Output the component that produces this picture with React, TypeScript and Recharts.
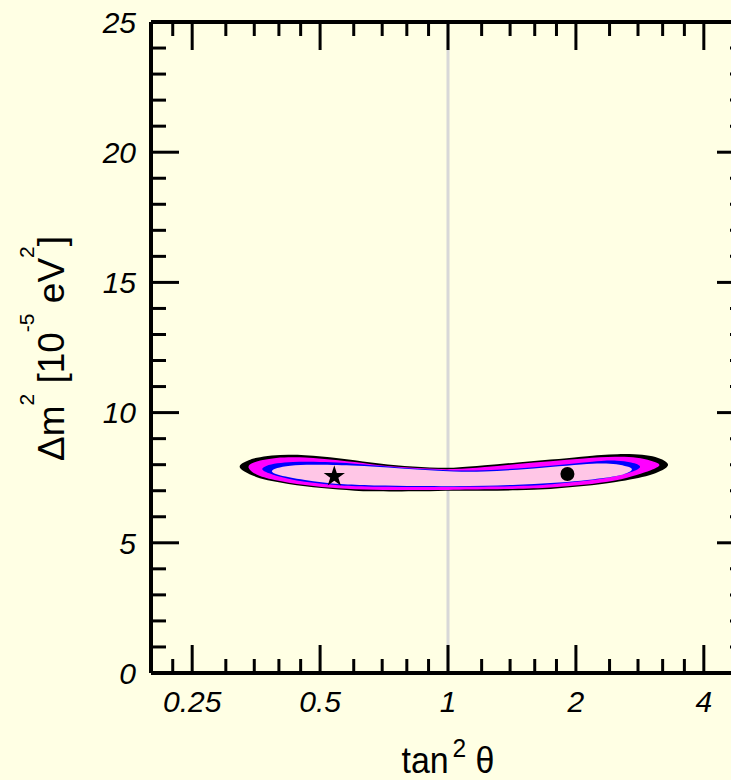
import React from 'react';
import { ScatterChart, Scatter, XAxis, YAxis, ReferenceLine, Label, Symbols } from 'recharts';

// ---------- data ----------
const X_MAJOR_TICKS = [0.25, 0.5, 1, 2, 4];
const X_MINOR_TICKS = [0.225, 0.3, 0.35, 0.4, 0.45, 0.6, 0.7, 0.8, 0.9, 1.2, 1.4, 1.6, 1.8, 2.4, 2.8, 3.2, 3.6, 4.8];
const Y_MAJOR_TICKS = [0, 5, 10, 15, 20, 25];
const Y_MINOR_TICKS = [1, 2, 3, 4, 6, 7, 8, 9, 11, 12, 13, 14, 16, 17, 18, 19, 21, 22, 23, 24];

// contour regions: [tan^2 theta, dm^2 (1e-5 eV^2)], traced around the boundary
const CONTOUR_OUTER = [
  [0.320, 7.93], [0.330, 8.08], [0.339, 8.17], [0.352, 8.26], [0.385, 8.36], [0.421, 8.39],
  [0.461, 8.37], [0.504, 8.32], [0.552, 8.25], [0.603, 8.17], [0.660, 8.08], [0.722, 8.0],
  [0.790, 7.94], [0.865, 7.91], [0.950, 7.88], [1.033, 7.87], [1.216, 7.97], [1.456, 8.09],
  [1.743, 8.19], [2.086, 8.32], [2.30, 8.38], [2.498, 8.41], [2.75, 8.41], [2.989, 8.35],
  [3.17, 8.24], [3.36, 8.0], [3.17, 7.75], [2.989, 7.59], [2.75, 7.46], [2.498, 7.33],
  [2.086, 7.17], [1.743, 7.06], [1.456, 7.01], [1.216, 7.0], [1.033, 7.0], [0.865, 6.97],
  [0.750, 6.97], [0.660, 6.97], [0.603, 7.0], [0.552, 7.04], [0.504, 7.1], [0.461, 7.17],
  [0.421, 7.26], [0.385, 7.36], [0.352, 7.52], [0.330, 7.75],
];
const CONTOUR_99 = [
  [0.335, 7.91], [0.345, 8.06], [0.360, 8.16], [0.385, 8.25], [0.421, 8.29], [0.461, 8.28],
  [0.504, 8.23], [0.552, 8.17], [0.603, 8.10], [0.660, 8.02], [0.722, 7.94], [0.865, 7.85],
  [1.033, 7.81], [1.216, 7.90], [1.456, 8.03], [1.743, 8.13], [2.086, 8.24], [2.498, 8.32],
  [2.80, 8.28], [3.00, 8.16], [3.22, 8.0], [3.00, 7.78], [2.80, 7.62], [2.498, 7.38],
  [2.086, 7.22], [1.743, 7.11], [1.456, 7.06], [1.033, 7.04], [0.865, 7.02], [0.660, 7.03],
  [0.552, 7.08], [0.461, 7.2], [0.385, 7.42], [0.352, 7.6],
];
const CONTOUR_95 = [
  [0.360, 7.81], [0.372, 7.96], [0.395, 8.06], [0.430, 8.11], [0.480, 8.12], [0.552, 8.08],
  [0.603, 8.04], [0.722, 7.93], [0.865, 7.82], [1.033, 7.77], [1.216, 7.78], [1.456, 7.85],
  [1.743, 7.95], [2.086, 8.09], [2.30, 8.15], [2.498, 8.17], [2.70, 8.10], [2.90, 7.93],
  [2.70, 7.70], [2.498, 7.56], [2.20, 7.40], [1.743, 7.23], [1.456, 7.17], [1.033, 7.14],
  [0.660, 7.14], [0.552, 7.2], [0.504, 7.27], [0.461, 7.33], [0.421, 7.45], [0.385, 7.62],
];
const CONTOUR_90 = [
  [0.380, 7.74], [0.395, 7.88], [0.421, 7.97], [0.480, 8.01], [0.552, 7.99], [0.603, 7.97],
  [0.722, 7.90], [0.865, 7.80], [1.033, 7.73], [1.216, 7.73], [1.456, 7.80], [1.743, 7.91],
  [2.086, 8.02], [2.30, 8.06], [2.50, 8.03], [2.65, 7.93], [2.74, 7.84], [2.65, 7.67],
  [2.50, 7.56], [2.30, 7.48], [2.086, 7.38], [1.743, 7.29], [1.456, 7.23], [1.216, 7.19],
  [1.033, 7.17], [0.865, 7.18], [0.660, 7.19], [0.552, 7.25], [0.504, 7.33], [0.461, 7.41],
  [0.421, 7.52], [0.395, 7.62],
];
const STAR_POINT = [[0.54, 7.55]];
const DOT_POINT = [[1.91, 7.64]];

// ---------- styling ----------
const BG = '#ffffe4';
const FONT = '"Liberation Sans", Arial, Helvetica, sans-serif';
const toXY = (arr: number[][]) => arr.map(([x, y]) => ({ x, y }));
const ALL_X_TICKS = [...X_MAJOR_TICKS, ...X_MINOR_TICKS].sort((a, b) => a - b);
const ALL_Y_TICKS = [...Y_MAJOR_TICKS, ...Y_MINOR_TICKS].sort((a, b) => a - b);

const BottomTick = ({ x, y, payload }: any) => {
  const v = payload.value;
  const major = X_MAJOR_TICKS.includes(v);
  return (
    <g>
      <line x1={x} y1={y} x2={x} y2={y - (major ? 28 : 14)} stroke="#000" strokeWidth={3} />
      {major && (
        <text x={x} y={y + 39} textAnchor="middle" fontFamily={FONT} fontStyle="italic" fontWeight="normal" fontSize={30} fill="#000" stroke="none">
          {String(v)}
        </text>
      )}
    </g>
  );
};
const TopTick = ({ x, y, payload }: any) => {
  const major = X_MAJOR_TICKS.includes(payload.value);
  return <line x1={x} y1={y} x2={x} y2={y + (major ? 28 : 14)} stroke="#000" strokeWidth={3} />;
};
const LeftTick = ({ x, y, payload }: any) => {
  const v = payload.value;
  const major = Y_MAJOR_TICKS.includes(v);
  return (
    <g>
      <line x1={x} y1={y} x2={x + (major ? 28 : 15)} y2={y} stroke="#000" strokeWidth={3} />
      {major && (
        <text x={x - 15} y={y} dy="0.36em" textAnchor="end" fontFamily={FONT} fontStyle="italic" fontWeight="normal" fontSize={30} fill="#000" stroke="none">
          {String(v)}
        </text>
      )}
    </g>
  );
};
const RightTick = ({ x, y, payload }: any) => {
  const major = Y_MAJOR_TICKS.includes(payload.value);
  return <line x1={x} y1={y} x2={x - (major ? 28 : 15)} y2={y} stroke="#000" strokeWidth={3} />;
};

const XTitle = (props: any) => {
  const vb = props.viewBox;
  const cx = vb.x + vb.width / 2;
  const by = vb.y + 100;
  return (
    <text x={cx} y={by} textAnchor="middle" fontFamily={FONT} fontSize={36} fill="#000" stroke="none" textLength={93} lengthAdjust="spacingAndGlyphs">
      <tspan>tan</tspan>
      <tspan dx={4} dy={-16} fontSize={26}>2</tspan>
      <tspan dy={16}> θ</tspan>
    </text>
  );
};
const YTitle = (props: any) => {
  const vb = props.viewBox;
  const cx = vb.x - 27;
  const cy = vb.y + vb.height / 2 + 1;
  return (
    <text transform={`translate(${cx},${cy}) rotate(-90)`} x={0} y={0} textAnchor="middle" fontFamily={FONT} fontSize={37} fill="#000" stroke="none">
      <tspan>Δm</tspan>
      <tspan dy={-30} fontSize={21}>2</tspan>
      <tspan dy={30}> [10</tspan>
      <tspan dy={-30} fontSize={21}>-5</tspan>
      <tspan dy={30}> eV</tspan>
      <tspan dy={-30} fontSize={21}>2</tspan>
      <tspan dy={30}>]</tspan>
    </text>
  );
};

const NoShape = () => <g />;
const StarShape = (p: any) => <Symbols type="star" size={140} cx={p.cx} cy={p.cy} fill="#000" stroke="none" />;
const DotShape = (p: any) => <circle cx={p.cx} cy={p.cy} r={7} fill="#000" />;

const region = (data: number[][], color: string, key: string) => (
  <Scatter
    key={key}
    data={toXY(data)}
    shape={NoShape}
    line={{ stroke: color, strokeWidth: 0, fill: color }}
    lineType="joint"
    lineJointType="basisClosed"
    isAnimationActive={false}
  />
);

export default function App() {
  return (
    <div style={{ position: 'absolute', left: 0, top: 0, width: 731, height: 780, overflow: 'hidden', background: BG }}>
      <ScatterChart width={800} height={780} margin={{ top: 12, right: 45, bottom: 47, left: 91 }} style={{ background: BG }}>
        <XAxis
          dataKey="x" type="number" scale="log" domain={[0.2, 5]} allowDataOverflow
          ticks={ALL_X_TICKS} interval={0} tickSize={0} tickMargin={0} height={60}
          tick={<BottomTick />} axisLine={{ stroke: '#000', strokeWidth: 4 }} tickLine={false}
        >
          <Label content={<XTitle />} />
        </XAxis>
        <XAxis
          xAxisId="top" orientation="top" dataKey="x" type="number" scale="log" domain={[0.2, 5]} allowDataOverflow
          ticks={ALL_X_TICKS} interval={0} tickSize={0} tickMargin={0} height={10}
          tick={<TopTick />} axisLine={{ stroke: '#000', strokeWidth: 4 }} tickLine={false}
        />
        <YAxis
          dataKey="y" type="number" domain={[0, 25]} allowDataOverflow
          ticks={ALL_Y_TICKS} interval={0} tickSize={0} tickMargin={0} width={60}
          tick={<LeftTick />} axisLine={{ stroke: '#000', strokeWidth: 4 }} tickLine={false}
        >
          <Label content={<YTitle />} />
        </YAxis>
        <YAxis
          yAxisId="right" orientation="right" dataKey="y" type="number" domain={[0, 25]} allowDataOverflow
          ticks={ALL_Y_TICKS} interval={0} tickSize={0} tickMargin={0} width={10}
          tick={<RightTick />} axisLine={{ stroke: '#000', strokeWidth: 4 }} tickLine={false}
        />
        {region(CONTOUR_OUTER, '#000000', 'c1')}
        {region(CONTOUR_99, '#ff00ff', 'c2')}
        {region(CONTOUR_95, '#0000ff', 'c3')}
        {region(CONTOUR_90, '#ffc6e6', 'c4')}
        <ReferenceLine x={1} stroke="#d8d8d8" strokeWidth={3} />
        <Scatter data={toXY(STAR_POINT)} shape={StarShape} isAnimationActive={false} />
        <Scatter data={toXY(DOT_POINT)} shape={DotShape} isAnimationActive={false} />
      </ScatterChart>
    </div>
  );
}
